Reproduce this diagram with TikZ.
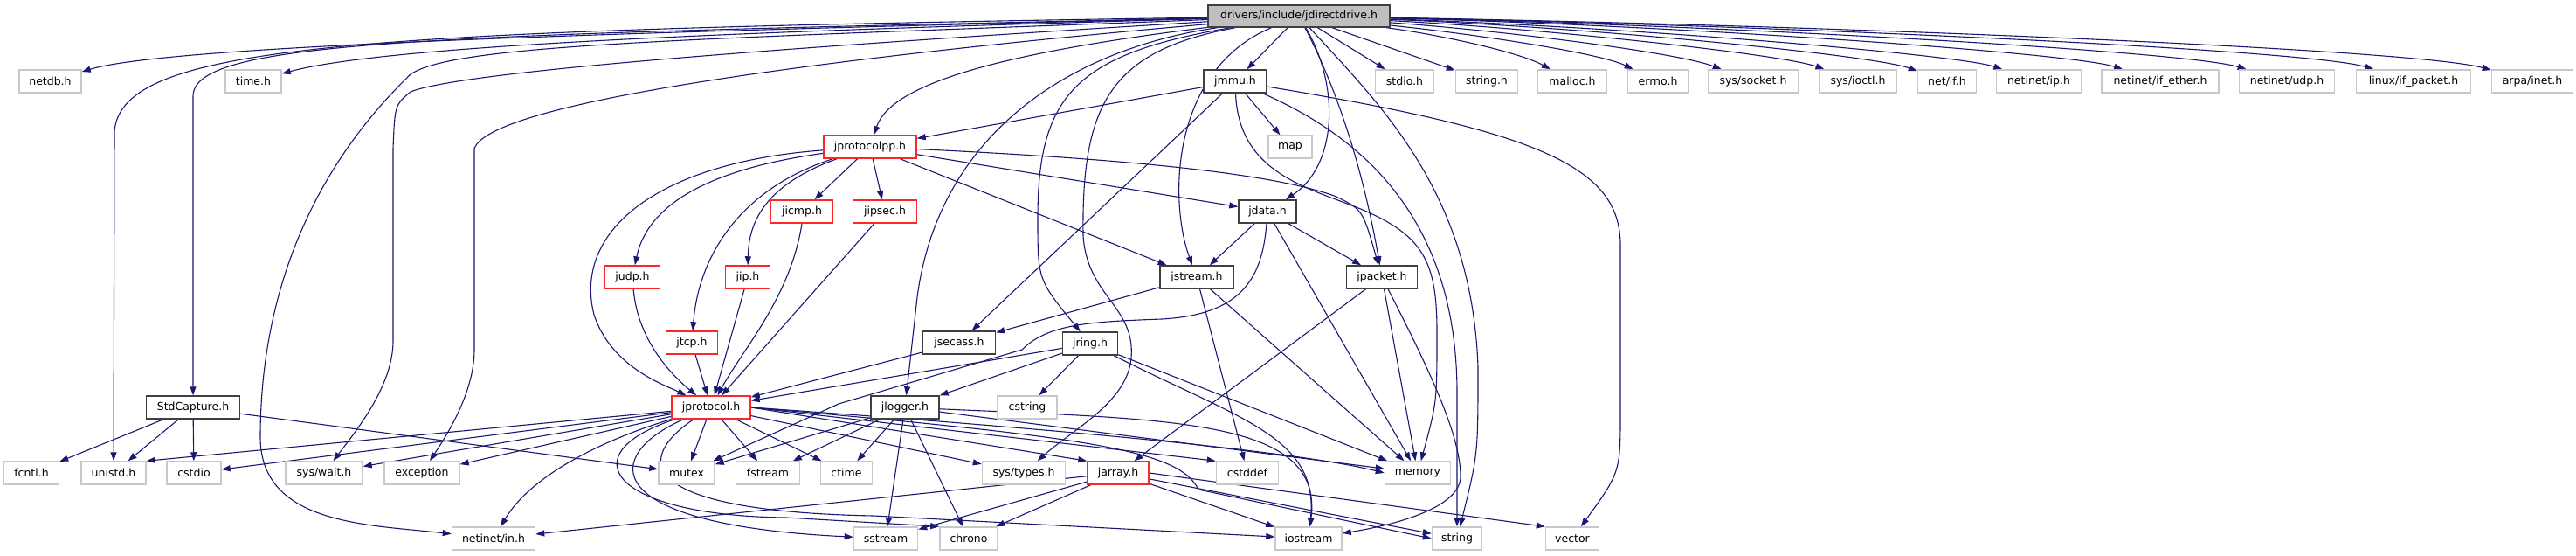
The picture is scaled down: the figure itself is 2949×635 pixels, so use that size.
\documentclass[tikz,border=0pt]{standalone}
\usepackage{fontspec}
\setmainfont{DejaVu Sans}
\usetikzlibrary{arrows.meta,backgrounds}
\definecolor{CEDGE}{RGB}{25,25,112}
\definecolor{CROOT}{RGB}{191,191,191}
\definecolor{CLOC}{RGB}{64,64,64}
\definecolor{CSYS}{RGB}{200,200,200}
\definecolor{CTRN}{RGB}{250,40,40}
\tikzset{
  hbox/.style={rectangle,minimum height=26pt,inner sep=0pt,fill=white,line width=1.5pt,font=\fontsize{12.5}{15}\selectfont},
  roothdr/.style={hbox,draw=CLOC,fill=CROOT,minimum height=25pt},
  lochdr/.style={hbox,draw=CLOC},
  trnhdr/.style={hbox,draw=CTRN},
  syshdr/.style={hbox,draw=CSYS},
  dep/.style={CEDGE,line width=1.1pt,-{Triangle[length=10pt,width=7pt]}}
}

\begin{document}
\begin{tikzpicture}[x=1pt,y=-1pt]
  \useasboundingbox (0,0) rectangle (2949,635);
  \node[roothdr,minimum width=208pt] (root) at (1487,18.5) {drivers/include/jdirectdrive.h};
  \node[syshdr,minimum width=71pt] (netdb) at (57.5,93) {netdb.h};
  \node[syshdr,minimum width=64pt] (timeh) at (290,93) {time.h};
  \node[lochdr,minimum width=72pt] (jmmu) at (1414,93) {jmmu.h};
  \node[syshdr,minimum width=67pt] (stdioh) at (1608,93) {stdio.h};
  \node[syshdr,minimum width=71pt] (stringh) at (1702,93) {string.h};
  \node[syshdr,minimum width=79pt] (malloch) at (1800,93) {malloc.h};
  \node[syshdr,minimum width=69pt] (errnoh) at (1898,93) {errno.h};
  \node[syshdr,minimum width=103pt] (syssocket) at (2007,93) {sys/socket.h};
  \node[syshdr,minimum width=88pt] (sysioctl) at (2127,93) {sys/ioctl.h};
  \node[syshdr,minimum width=67pt] (netif) at (2229,93) {net/if.h};
  \node[syshdr,minimum width=97pt] (netinetip) at (2334,93) {netinet/ip.h};
  \node[syshdr,minimum width=134pt] (ifether) at (2473,93) {netinet/if\_ether.h};
  \node[syshdr,minimum width=109pt] (netinetudp) at (2618,93) {netinet/udp.h};
  \node[syshdr,minimum width=131pt] (ifpacket) at (2763,93) {linux/if\_packet.h};
  \node[syshdr,minimum width=93pt] (arpainet) at (2899,93) {arpa/inet.h};
  \node[trnhdr,minimum width=106pt] (jprotocolpp) at (996,168) {jprotocolpp.h};
  \node[syshdr,minimum width=50pt] (map) at (1477,168) {map};
  \node[trnhdr,minimum width=71pt] (jicmp) at (918,242) {jicmp.h};
  \node[trnhdr,minimum width=73pt] (jipsec) at (1013,242) {jipsec.h};
  \node[lochdr,minimum width=66pt] (jdata) at (1451,242) {jdata.h};
  \node[trnhdr,minimum width=63pt] (judp) at (724,317) {judp.h};
  \node[trnhdr,minimum width=51pt] (jip) at (856,317) {jip.h};
  \node[lochdr,minimum width=84pt] (jstream) at (1370,317) {jstream.h};
  \node[lochdr,minimum width=81pt] (jpacket) at (1582,317) {jpacket.h};
  \node[trnhdr,minimum width=59pt] (jtcp) at (792,392) {jtcp.h};
  \node[lochdr,minimum width=83pt] (jsecass) at (1098,392) {jsecass.h};
  \node[lochdr,minimum width=63pt] (jring) at (1248,393) {jring.h};
  \node[lochdr,minimum width=107pt] (stdcapture) at (221,466) {StdCapture.h};
  \node[trnhdr,minimum width=90pt] (jprotocol) at (814,466) {jprotocol.h};
  \node[lochdr,minimum width=78pt] (jlogger) at (1036,466) {jlogger.h};
  \node[syshdr,minimum width=68pt] (cstring) at (1176,466) {cstring};
  \node[syshdr,minimum width=63pt] (fcntl) at (36,541) {fcntl.h};
  \node[syshdr,minimum width=74pt] (unistd) at (130,541) {unistd.h};
  \node[syshdr,minimum width=62pt] (cstdio) at (222,541) {cstdio};
  \node[syshdr,minimum width=88pt] (syswait) at (371,541) {sys/wait.h};
  \node[syshdr,minimum width=86pt] (exception) at (483,541) {exception};
  \node[syshdr,minimum width=64pt] (mutex) at (786,541) {mutex};
  \node[syshdr,minimum width=73pt] (fstream) at (879,541) {fstream};
  \node[syshdr,minimum width=59pt] (ctime) at (969,541) {ctime};
  \node[syshdr,minimum width=95pt] (systypes) at (1172,541) {sys/types.h};
  \node[trnhdr,minimum width=70pt] (jarray) at (1280,541) {jarray.h};
  \node[syshdr,minimum width=71pt] (cstddef) at (1428,541) {cstddef};
  \node[syshdr,minimum width=75pt] (memory) at (1623,541) {memory};
  \node[syshdr,minimum width=95pt] (netinetin) at (565,616) {netinet/in.h};
  \node[syshdr,minimum width=73pt] (sstream) at (1014,616) {sstream};
  \node[syshdr,minimum width=66pt] (chrono) at (1109,616) {chrono};
  \node[syshdr,minimum width=76pt] (iostream) at (1498,616) {iostream};
  \node[syshdr,minimum width=57pt] (stringn) at (1668,616) {string};
  \node[syshdr,minimum width=61pt] (vector) at (1800,616) {vector};
  \begin{scope}[on background layer]
  \draw[dep] (root) .. controls (800,35) and (200,50) .. (netdb);
  \draw[dep] (root) .. controls (900,35) and (450,50) .. (timeh);
  \draw[dep] (root) -- (stdioh);
  \draw[dep] (root) -- (stringh);
  \draw[dep] (root) .. controls (1650,40) and (1740,60) .. (malloch);
  \draw[dep] (root) .. controls (1680,38) and (1830,60) .. (errnoh);
  \draw[dep] (root) .. controls (1720,35) and (1920,60) .. (syssocket);
  \draw[dep] (root) .. controls (1760,32) and (2040,62) .. (sysioctl);
  \draw[dep] (root) .. controls (1800,30) and (2140,62) .. (netif);
  \draw[dep] (root) .. controls (1850,30) and (2240,62) .. (netinetip);
  \draw[dep] (root) .. controls (1900,28) and (2370,60) .. (ifether);
  \draw[dep] (root) .. controls (1950,28) and (2500,58) .. (netinetudp);
  \draw[dep] (root) .. controls (2000,28) and (2640,56) .. (ifpacket);
  \draw[dep] (root) .. controls (2050,28) and (2760,55) .. (arpainet);
  \draw[dep] (root) -- (jmmu);
  \draw[dep] (root) .. controls (400,35) and (140,50) .. (131,150) -- (unistd);
  \draw[dep] (root) .. controls (500,40) and (221,45) .. (221,110) -- (stdcapture);
  \draw[dep] (root) .. controls (800,45) and (520,50) .. (470,85) .. controls (330,220) and (298,380) .. (298,500) .. controls (298,600) and (420,600) .. (netinetin);
  \draw[dep] (root) .. controls (800,60) and (520,85) .. (470,105) .. controls (452,120) .. (450,170) -- (450,390) .. controls (450,440) and (410,490) .. (syswait);
  \draw[dep] (root) .. controls (900,70) and (560,120) .. (543,170) -- (543,400) .. controls (543,450) and (510,500) .. (exception);
  \draw[dep] (root) .. controls (1150,60) and (1020,95) .. (jprotocolpp);
  \draw[dep] (root) .. controls (1230,55) and (1075,150) .. (1050,340) -- (jlogger);
  \draw[dep] (root) .. controls (1230,62) and (1188,110) .. (1188,250) .. controls (1188,320) .. (jring);
  \draw[dep] (root) .. controls (1270,58) and (1238,120) .. (1240,270) .. controls (1245,340) and (1300,350) .. (1295,410) .. controls (1290,460) and (1230,490) .. (systypes);
  \draw[dep] (root) .. controls (1340,80) and (1338,230) .. (jstream);
  \draw[dep] (root) .. controls (1535,100) and (1530,190) .. (jdata);
  \draw[dep] (root) .. controls (1540,120) and (1565,220) .. (jpacket);
  \draw[dep] (root) .. controls (1580,120) and (1685,220) .. (1692,420) .. controls (1692,520) .. (stringn);
  \draw[dep] (jmmu) -- (jprotocolpp);
  \draw[dep] (jmmu) -- (jsecass);
  \draw[dep] (jmmu) -- (map);
  \draw[dep] (jmmu) .. controls (1418,200) and (1500,215) .. (1560,240) .. controls (1630,270) and (1645,300) .. (1645,380) .. controls (1645,460) .. (memory);
  \draw[dep] (jmmu) .. controls (1590,170) and (1668,280) .. (1668,450) -- (stringn);
  \draw[dep] (jmmu) .. controls (1760,150) and (1855,190) .. (1855,280) -- (1855,470) .. controls (1855,540) .. (vector);
  \draw[dep] (jprotocolpp) .. controls (760,185) and (655,260) .. (680,360) .. controls (700,420) and (760,440) .. (jprotocol);
  \draw[dep] (jprotocolpp) .. controls (800,195) and (740,240) .. (judp);
  \draw[dep] (jprotocolpp) .. controls (850,215) and (800,290) .. (jtcp);
  \draw[dep] (jprotocolpp) .. controls (880,210) and (857,250) .. (jip);
  \draw[dep] (jprotocolpp) -- (jicmp);
  \draw[dep] (jprotocolpp) -- (jipsec);
  \draw[dep] (jprotocolpp) -- (jstream);
  \draw[dep] (jprotocolpp) -- (jdata);
  \draw[dep] (jprotocolpp) .. controls (1250,180) and (1450,195) .. (1530,225) .. controls (1560,240) .. (jpacket);
  \draw[dep] (judp) .. controls (730,390) and (770,430) .. (jprotocol);
  \draw[dep] (jtcp) -- (jprotocol);
  \draw[dep] (jip) -- (jprotocol);
  \draw[dep] (jicmp.south) .. controls (905,340) and (850,400) .. (jprotocol);
  \draw[dep] (jipsec) -- (jprotocol);
  \draw[dep] (jsecass) -- (jprotocol);
  \draw[dep] (jdata) -- (jstream);
  \draw[dep] (jdata) -- (jpacket);
  \draw[dep] (jdata) -- (memory);
  \draw[dep] (jdata) .. controls (1445,320) and (1420,360) .. (1330,365) .. controls (1250,368) and (1200,370) .. (1170,400) -- (960,462) -- (mutex);
  \draw[dep] (jstream) -- (jsecass);
  \draw[dep] (jstream) -- (cstddef);
  \draw[dep] (jstream) -- (memory);
  \draw[dep] (jpacket) -- (jarray);
  \draw[dep] (jpacket) -- (memory);
  \draw[dep] (jpacket) .. controls (1640,430) and (1672,500) .. (1672,545) .. controls (1672,580) and (1600,600) .. (iostream);
  \draw[dep] (jring) -- (jprotocol);
  \draw[dep] (jring) -- (jlogger);
  \draw[dep] (jring) -- (cstring);
  \draw[dep] (jring) -- (memory);
  \draw[dep] (jring) .. controls (1420,480) and (1510,500) .. (iostream);
  \draw[dep] (jlogger) -- (mutex);
  \draw[dep] (jlogger) -- (fstream);
  \draw[dep] (jlogger) -- (ctime);
  \draw[dep] (jlogger) -- (sstream);
  \draw[dep] (jlogger) -- (chrono);
  \draw[dep] (jlogger) -- (memory);
  \draw[dep] (jlogger) .. controls (1350,480) and (1515,480) .. (iostream);
  \draw[dep] (jprotocol) -- (unistd.north east);
  \draw[dep] (jprotocol) -- (cstdio);
  \draw[dep] (jprotocol) -- (syswait);
  \draw[dep] (jprotocol) -- (exception);
  \draw[dep] (jprotocol) .. controls (700,500) and (610,540) .. (netinetin);
  \draw[dep] (jprotocol) -- (mutex);
  \draw[dep] (jprotocol) -- (fstream);
  \draw[dep] (jprotocol) -- (ctime);
  \draw[dep] (jprotocol) -- (systypes);
  \draw[dep] (jprotocol.east) -- (jarray.north west);
  \draw[dep] (jprotocol.east) -- (cstddef.north west);
  \draw[dep] (jprotocol.east) .. controls (1200,490) and (1480,515) .. (memory.west);
  \draw[dep] (jprotocol) .. controls (690,520) and (680,600) .. (sstream);
  \draw[dep] (jprotocol) .. controls (650,520) and (700,590) .. (900,592) -- (chrono.north west);
  \draw[dep] (jprotocol) .. controls (720,530) and (740,585) .. (1000,590) -- (iostream);
  \draw[dep] (jprotocol.east) .. controls (1250,500) and (1350,515) .. (1372,560) -- (stringn.west);
  \draw[dep] (jarray) -- (netinetin);
  \draw[dep] (jarray) -- (sstream);
  \draw[dep] (jarray) -- (chrono);
  \draw[dep] (jarray) -- (iostream);
  \draw[dep] (jarray) -- (stringn);
  \draw[dep] (jarray.east) -- (vector.north west);
  \draw[dep] (stdcapture) -- (fcntl);
  \draw[dep] (stdcapture) -- (unistd);
  \draw[dep] (stdcapture) -- (cstdio);
  \draw[dep] (stdcapture) -- (mutex);
  \end{scope}
\end{tikzpicture}
\end{document}
